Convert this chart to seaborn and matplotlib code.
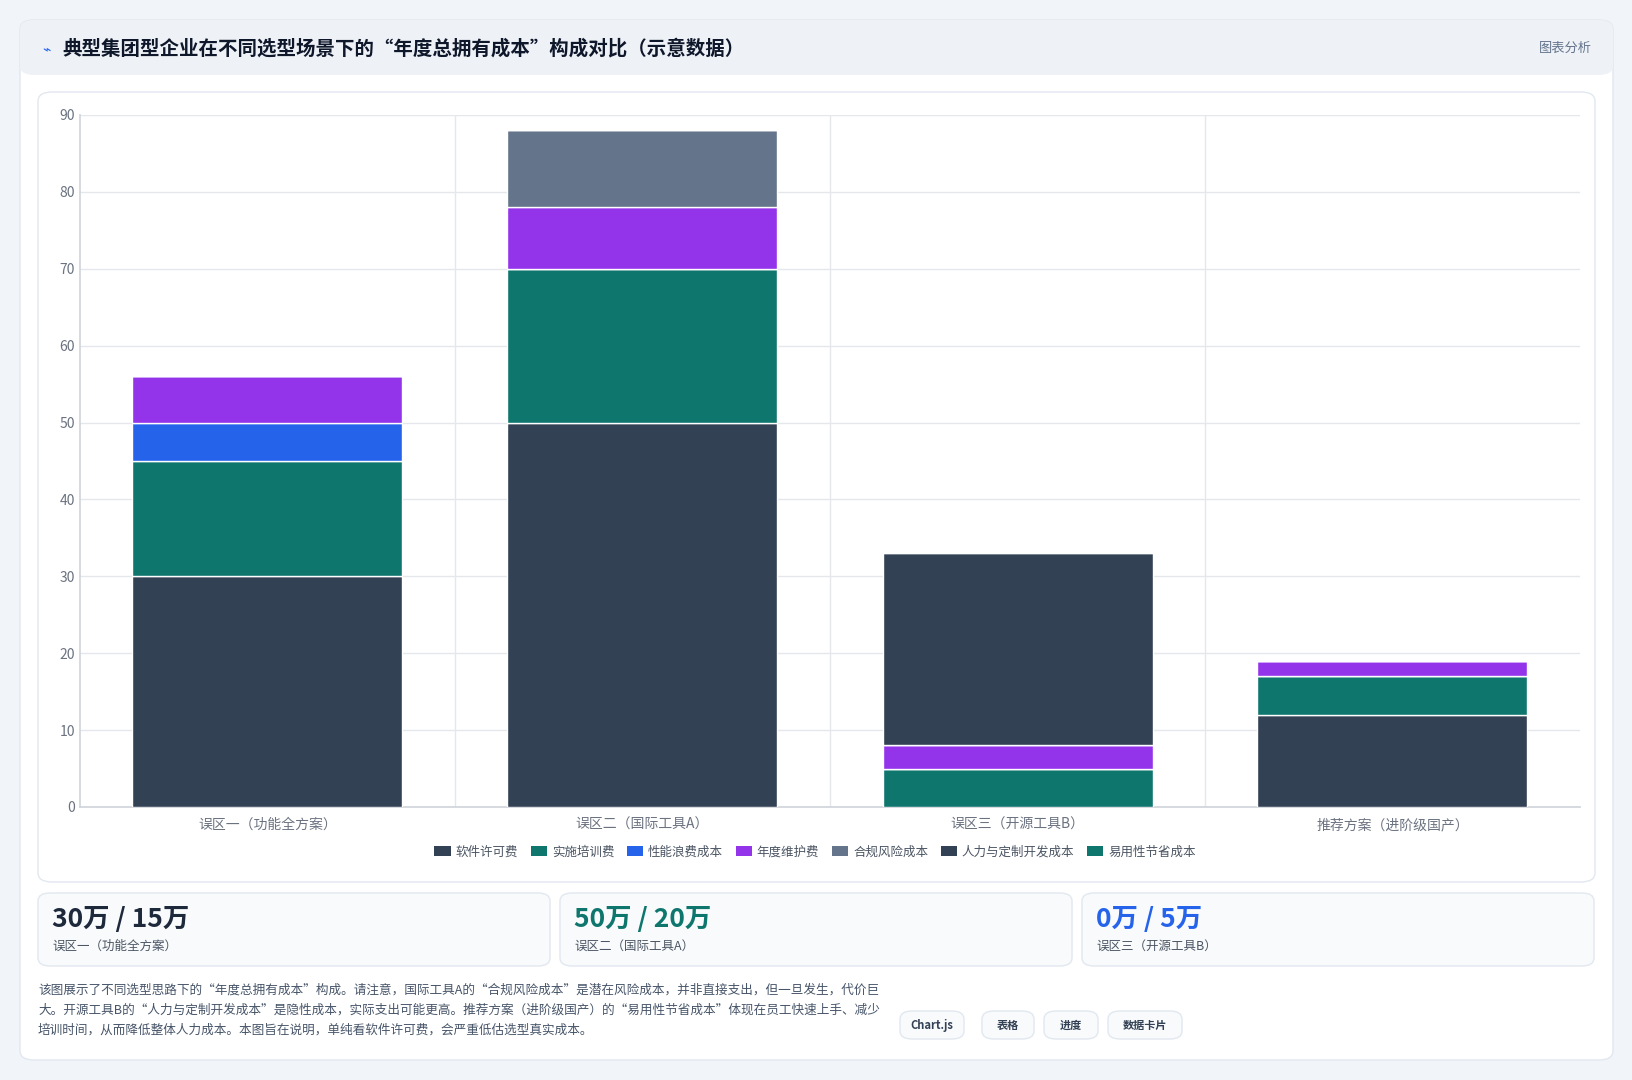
import numpy as np
import pandas as pd
import matplotlib
matplotlib.use('Agg')
import matplotlib.pyplot as plt
from matplotlib.patches import FancyBboxPatch, Patch
import seaborn as sns

sns.set_theme(style='white')
plt.rcParams['font.family'] = ['Noto Sans CJK SC', 'DejaVu Sans']

# 数据
categories = ['误区一（功能全方案）', '误区二（国际工具A）', '误区三（开源工具B）', '推荐方案（进阶级国产）']
series_names = ['软件许可费', '实施培训费', '性能浪费成本', '年度维护费', '合规风险成本', '人力与定制开发成本', '易用性节省成本']
series_colors = ['#334155', '#0f766e', '#2563eb', '#9333ea', '#64748b', '#334155', '#0f766e']
license_fee = [30, 50, 0, 12]
training_fee = [15, 20, 5, 5]
perf_waste = [5, 0, 0, 0]
maintenance = [6, 8, 3, 2]
compliance_risk = [0, 10, 0, 0]
labor_dev = [0, 0, 25, 0]
usability_save = [0, 0, 0, 0]
series_values = [license_fee, training_fee, perf_waste, maintenance, compliance_risk, labor_dev, usability_save]

card_values = ['30万 / 15万', '50万 / 20万', '0万 / 5万']
card_labels = ['误区一（功能全方案）', '误区二（国际工具A）', '误区三（开源工具B）']
card_colors = ['#1e293b', '#0f766e', '#2563eb']

W, H = 1633, 1080
fig = plt.figure(figsize=(W / 100, H / 100), dpi=100)
fig.patch.set_facecolor('#f1f5f9')

def box(x, y, w, h, fc, ec, r=12, z=-5):
    fig.patches.append(FancyBboxPatch((x / W, 1 - (y + h) / H), w / W, h / H,
                                      boxstyle=f'round,pad=0,rounding_size={r / W}',
                                      transform=fig.transFigure, fc=fc, ec=ec, lw=1, zorder=z))

box(20, 20, 1593, 1040, 'white', '#e2e8f0', 14, -10)
box(20, 20, 1593, 55, '#eef2f7', 'none', 14)
box(38, 92, 1557, 790, 'white', '#e2e8f0', 14)
fig.text(42 / W, 1 - 49 / H, '⌁', color='#2563eb', fontsize=10, va='center')
fig.text(62 / W, 1 - 49 / H, '典型集团型企业在不同选型场景下的“年度总拥有成本”构成对比（示意数据）',
         fontsize=14, fontweight='bold', color='#0f172a', va='center')
fig.text(1592 / W, 1 - 48 / H, '图表分析', fontsize=9.5, color='#64748b', va='center', ha='right')

ax = fig.add_axes([80 / W, 1 - 807 / H, (1580 - 80) / W, (807 - 115) / H])
ax.set_zorder(2)
ax.patch.set_alpha(0)
bottom = np.zeros(len(categories))
for name, vals, col in zip(series_names, series_values, series_colors):
    df = pd.DataFrame({'cat': categories, 'val': vals})
    sns.barplot(data=df, x='cat', y='val', bottom=bottom, color=col, width=0.72,
                saturation=1, ax=ax, zorder=3)
    bottom += np.array(vals)
ax.set_ylim(0, 90)
ax.set_yticks(range(0, 91, 10))
ax.set_xlim(-0.5, 3.5)
ax.set_xlabel('')
ax.set_ylabel('')
ax.grid(axis='y', color='#e5e7eb', lw=1, zorder=0)
for xv in [0.5, 1.5, 2.5]:
    ax.axvline(xv, color='#e5e7eb', lw=1, zorder=0)
for s in ['top', 'right']:
    ax.spines[s].set_visible(False)
for s in ['left', 'bottom']:
    ax.spines[s].set_color('#d1d5db')
ax.tick_params(axis='both', colors='#6b7280', labelsize=10, length=0)
ax.tick_params(axis='x', pad=8)
handles = [Patch(fc=c, ec='none', label=n) for n, c in zip(series_names, series_colors)]
fig.legend(handles=handles, loc='center', bbox_to_anchor=(815 / W, 1 - 852 / H), ncol=7,
           frameon=False, fontsize=9, labelcolor='#4b5563', handlelength=1.3, handleheight=0.9,
           columnspacing=1.0, handletextpad=0.4)

for i, (v, lab, col) in enumerate(zip(card_values, card_labels, card_colors)):
    x0 = 38 + i * 522
    box(x0, 893, 512, 73, '#f8fafc', '#e2e8f0', 12)
    fig.text((x0 + 14) / W, 1 - 919 / H, v, fontsize=19, fontweight='bold', color=col, va='center')
    fig.text((x0 + 14) / W, 1 - 946 / H, lab, fontsize=9, color='#4b5563', va='center')

note = ['该图展示了不同选型思路下的“年度总拥有成本”构成。请注意，国际工具A的“合规风险成本”是潜在风险成本，并非直接支出，但一旦发生，代价巨',
        '大。开源工具B的“人力与定制开发成本”是隐性成本，实际支出可能更高。推荐方案（进阶级国产）的“易用性节省成本”体现在员工快速上手、减少',
        '培训时间，从而降低整体人力成本。本图旨在说明，单纯看软件许可费，会严重低估选型真实成本。']
for j, line in enumerate(note):
    fig.text(38 / W, 1 - (990 + j * 20) / H, line, fontsize=9.1, color='#475569', va='center')

for lab, x0, w in [('Chart.js', 900, 64), ('表格', 982, 52), ('进度', 1044, 54), ('数据卡片', 1108, 74)]:
    box(x0, 1011, w, 28, '#f8fafc', '#e2e8f0', 12)
    fig.text((x0 + w / 2) / W, 1 - 1025 / H, lab, fontsize=8, color='#334155', fontweight='bold',
             va='center', ha='center')

fig.savefig('out.png', dpi=100, facecolor=fig.get_facecolor())
